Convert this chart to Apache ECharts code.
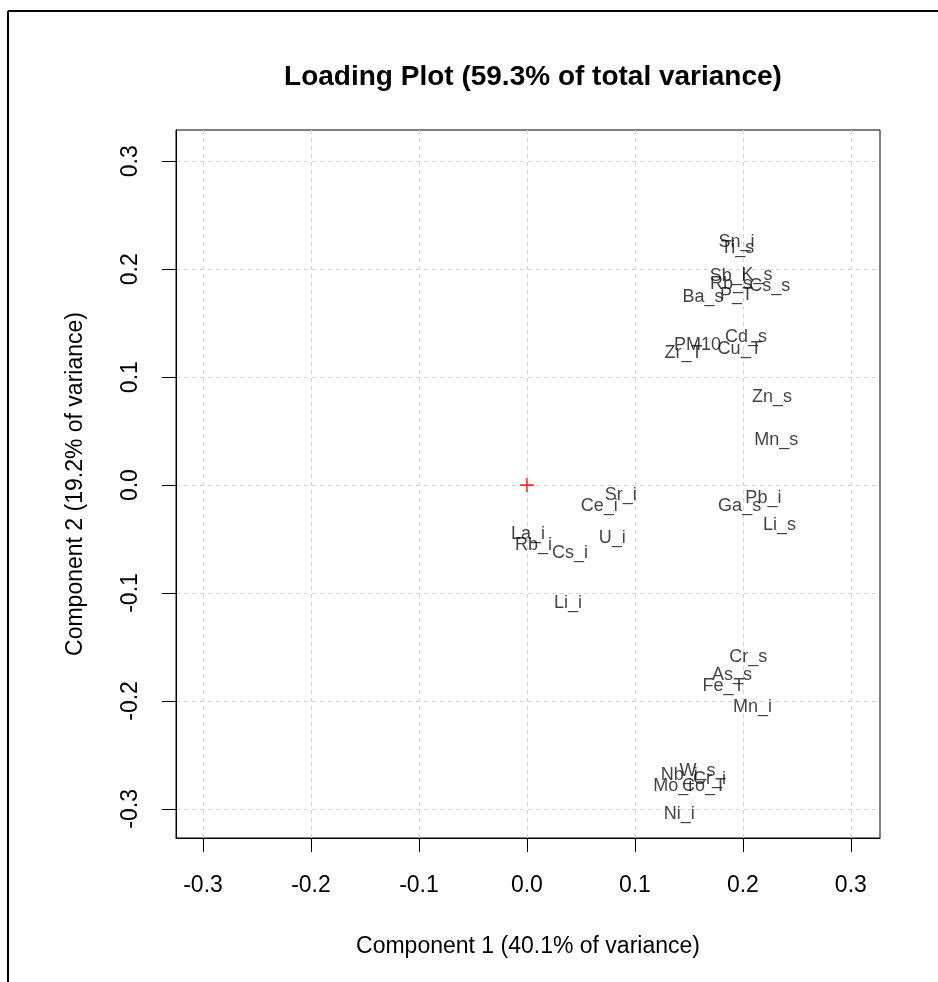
<!DOCTYPE html>
<html>
<head>
<meta charset="utf-8">
<title>Loading Plot</title>
<script src="https://cdn.jsdelivr.net/npm/echarts@6/dist/echarts.min.js"></script>
<style>
  html, body { margin: 0; padding: 0; background: #fff; }
  #chart { width: 938px; height: 982px; }
</style>
</head>
<body>
<div id="chart"></div>
<script>
// Variable names and their loadings on the first two components
const variables = [
  'Sn_i', 'Ti_s', 'Sb_i', 'K_s', 'Rb_s', 'Cs_s', 'Ba_s', 'P_T',
  'Cd_s', 'Cu_T', 'PM10', 'Zr_T', 'Zn_s', 'Mn_s',
  'Sr_i', 'Ce_i', 'U_i', 'La_i', 'Rb_i', 'Cs_i', 'Li_i',
  'Pb_i', 'Ga_s', 'Li_s',
  'Cr_s', 'As_s', 'Fe_T', 'Mn_i',
  'W_s', 'Nb_i', 'Cr_i', 'Mo_i', 'Co_T', 'Ni_i'
];
const component1 = [
  0.194, 0.195, 0.186, 0.213, 0.189, 0.225, 0.163, 0.194,
  0.203, 0.197, 0.158, 0.145, 0.227, 0.231,
  0.087, 0.067, 0.079, 0.001, 0.006, 0.040, 0.038,
  0.219, 0.197, 0.234,
  0.205, 0.190, 0.182, 0.209,
  0.158, 0.141, 0.169, 0.135, 0.164, 0.141
];
const component2 = [
  0.225, 0.220, 0.194, 0.195, 0.186, 0.184, 0.174, 0.176,
  0.137, 0.126, 0.130, 0.122, 0.082, 0.042,
  -0.009, -0.019, -0.049, -0.045, -0.056, -0.063, -0.109,
  -0.012, -0.019, -0.037,
  -0.159, -0.176, -0.186, -0.206,
  -0.265, -0.269, -0.272, -0.279, -0.279, -0.305
];
const tickValues = [-0.3, -0.2, -0.1, 0.0, 0.1, 0.2, 0.3];
const origin = [[0, 0]];

const FONT = '"Liberation Sans", Arial, Helvetica, sans-serif';

const chart = echarts.init(document.getElementById('chart'), null, { renderer: 'canvas' });

const loadings = variables.map((name, i) => ({ name: name, value: [component1[i], component2[i]] }));

function valueAxis(extra) {
  return Object.assign({
    type: 'value',
    splitNumber: 6,
    axisLine: { show: true, onZero: false, lineStyle: { color: '#000', width: 1 } },
    axisTick: { show: true, inside: false, length: 14, customValues: tickValues,
                lineStyle: { color: '#000', width: 1 } },
    splitLine: { show: true, lineStyle: { color: '#d3d3d3', type: [4, 4], width: 1 } },
    nameLocation: 'middle',
    nameTextStyle: { color: '#000', fontFamily: FONT, fontSize: 23 }
  }, extra);
}

chart.setOption({
  animation: false,
  backgroundColor: '#fff',
  title: {
    text: 'Loading Plot (59.3% of total variance)',
    left: 528,
    top: 58,
    textAlign: 'center',
    textStyle: { color: '#000', fontFamily: FONT, fontSize: 28, fontWeight: 'bold' }
  },
  grid: {
    left: 176, right: 58, top: 130, bottom: 144,
    show: true, borderColor: '#000', borderWidth: 1, backgroundColor: 'transparent'
  },
  xAxis: valueAxis({
    min: -0.325, max: 0.327,
    name: 'Component 1 (40.1% of variance)',
    nameGap: 97,
    axisLabel: { customValues: tickValues, color: '#000', fontFamily: FONT, fontSize: 23,
                 margin: 36, formatter: v => v.toFixed(1) }
  }),
  yAxis: valueAxis({
    min: -0.327, max: 0.329,
    name: 'Component 2 (19.2% of variance)',
    nameGap: 89,
    nameRotate: 90,
    axisLabel: { customValues: tickValues, color: '#000', fontFamily: FONT, fontSize: 23,
                 margin: 34, rotate: 90, formatter: v => v.toFixed(1) }
  }),
  graphic: [
    { type: 'line', shape: { x1: 8, y1: 11, x2: 938, y2: 11 }, style: { stroke: '#000', lineWidth: 2 } },
    { type: 'line', shape: { x1: 8, y1: 11, x2: 8, y2: 982 }, style: { stroke: '#000', lineWidth: 2 } }
  ],
  series: [
    {
      name: 'loadings',
      type: 'scatter',
      symbol: 'circle',
      symbolSize: 1,
      itemStyle: { color: 'transparent' },
      data: loadings,
      label: {
        show: true,
        position: 'inside',
        align: 'center',
        verticalAlign: 'middle',
        formatter: '{b}',
        color: '#111',
        fontFamily: FONT,
        fontSize: 18
      },
      labelLayout: { hideOverlap: false },
      z: 3
    },
    {
      name: 'origin',
      type: 'scatter',
      symbol: 'path://M-0.8,-7H0.8V-0.8H7V0.8H0.8V7H-0.8V0.8H-7V-0.8H-0.8Z',
      symbolSize: 14,
      itemStyle: { color: '#ff0000' },
      data: origin,
      z: 4
    }
  ]
});
</script>
</body>
</html>
